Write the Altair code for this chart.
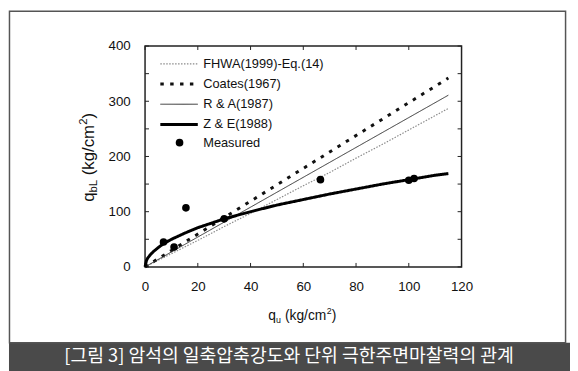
import altair as alt
import pandas as pd

FONT = "Liberation Sans"
KFONT = "Noto Sans CJK KR"

# ---------------- data ----------------
series_names = ["FHWA(1999)-Eq.(14)", "Coates(1967)", "R & A(1987)", "Z & E(1988)"]

fhwa_qu = [0, 10, 20, 30, 40, 50, 60, 70, 80, 90, 100, 110, 115]
fhwa_q = [0, 24, 48, 73, 97, 122, 147, 171, 197, 222, 248, 274, 287]

coates_qu = [0, 115]
coates_q = [0, 342]

ra_qu = [0, 115]
ra_q = [0, 311]

ze_qu = [0, 0.5, 1, 2, 3, 5, 7, 10, 15, 20, 25, 30, 40, 50, 60, 70, 80, 90, 100, 110, 115]
ze_q = [0, 11, 16, 22, 27, 35, 42, 50, 61, 71, 79, 87, 100, 112, 122, 132, 141, 150, 158, 166, 169]

meas_qu = [7, 11, 15.5, 30, 66.5, 100, 102]
meas_q = [45, 36, 107, 87, 158, 157, 160]

x_ticks = [0, 20, 40, 60, 80, 100, 120]
y_ticks = [0, 50, 100, 150, 200, 250, 300, 350, 400]
y_label_values = [0, 100, 200, 300, 400]

caption = "[그림 3] 암석의 일축압축강도와 단위 극한주면마찰력의 관계"

# ---------------- tables ----------------
rows = []
for name, xs, ys in zip(series_names,
                        [fhwa_qu, coates_qu, ra_qu, ze_qu],
                        [fhwa_q, coates_q, ra_q, ze_q]):
    for a, b in zip(xs, ys):
        rows.append({"series": name, "qu": a, "q": b})
lines_df = pd.DataFrame(rows)
meas_df = pd.DataFrame({"qu": meas_qu, "q": meas_q, "kind": ["Measured"] * len(meas_qu)})
xt_df = pd.DataFrame({"qu": x_ticks})
yt_df = pd.DataFrame({"q": y_ticks})
one = pd.DataFrame({"k": [0]})

W, H = 321, 224
xscale = alt.Scale(domain=[0, 120], nice=False, zero=False)
yscale = alt.Scale(domain=[0, 400], nice=False, zero=False)

x_axis = alt.Axis(values=x_ticks, title=None, ticks=False, domain=False, grid=False,
                  labelPadding=13, labelFontSize=13.5, labelFont=FONT, labelColor="#111",
                  labelFlush=False)
y_axis = alt.Axis(values=y_label_values, title=None, ticks=False, domain=False, grid=False,
                  labelPadding=15, labelFontSize=13.5, labelFont=FONT, labelColor="#111",
                  labelFlush=False)

X = alt.X("qu:Q", scale=xscale, axis=x_axis)
Y = alt.Y("q:Q", scale=yscale, axis=y_axis)

line_legend = alt.Legend(title=None, orient="none", legendX=9, legendY=11.5,
                         symbolType="M0,0H7.6", symbolSize=100, labelOffset=37,
                         rowPadding=6.5, labelFontSize=13, labelFont=FONT,
                         labelColor="#111", padding=0)

lines = alt.Chart(lines_df).mark_line().encode(
    x=X, y=Y,
    color=alt.Color("series:N", scale=alt.Scale(domain=series_names,
                    range=["#8a8a8a", "#111111", "#333333", "#000000"]), legend=line_legend),
    strokeDash=alt.StrokeDash("series:N", scale=alt.Scale(domain=series_names,
                    range=[[1.5, 1.5], [3.5, 6.5], [1, 0], [1, 0]]), legend=line_legend),
    strokeWidth=alt.StrokeWidth("series:N", scale=alt.Scale(type="ordinal", domain=series_names,
                    range=[1.2, 3, 1.0, 3]), legend=line_legend),
    detail="series:N",
)

points = alt.Chart(meas_df).mark_point(filled=True, size=60, opacity=1, color="black").encode(
    x=X, y=Y,
    shape=alt.Shape("kind:N", scale=alt.Scale(domain=["Measured"], range=["circle"]),
                    legend=alt.Legend(title=None, orient="none", legendX=28.5, legendY=91.5,
                                      symbolType="circle", symbolSize=60,
                                      symbolFillColor="black", symbolStrokeColor="black",
                                      labelOffset=17.5, labelFontSize=13, labelFont=FONT,
                                      labelColor="#111", padding=0)),
)

tick_color = "#222"
xt_bottom = alt.Chart(xt_df).mark_rule(color=tick_color, strokeWidth=1).encode(
    x=X, y=alt.value(H), y2=alt.value(H - 4))
xt_top = alt.Chart(xt_df).mark_rule(color=tick_color, strokeWidth=1).encode(
    x=X, y=alt.value(0), y2=alt.value(4))
yt_left = alt.Chart(yt_df).mark_rule(color=tick_color, strokeWidth=1).encode(
    y=Y, x=alt.value(0), x2=alt.value(4))
yt_right = alt.Chart(yt_df).mark_rule(color=tick_color, strokeWidth=1).encode(
    y=Y, x=alt.value(W), x2=alt.value(W - 4))

# outer frame and caption band
band = alt.Chart(one).mark_rect(color="#4a4a4a").encode(
    x=alt.value(-138), x2=alt.value(431), y=alt.value(301), y2=alt.value(330))
frame = alt.Chart(one).mark_rect(fillOpacity=0, stroke="#555", strokeWidth=1.5).encode(
    x=alt.value(-137.5), x2=alt.value(426.5), y=alt.value(-35.3), y2=alt.value(301))
cap = alt.Chart(one).mark_text(text=caption, font=KFONT, fontSize=18.5, color="white",
                               align="center", baseline="middle").encode(
    x=alt.value(146), y=alt.value(314))


def part(txt, x, y, size, dx=0, dy=0, angle=0):
    return alt.Chart(one).mark_text(text=txt, font=FONT, fontSize=size, color="#111",
                                    align="left", baseline="alphabetic", dx=dx, dy=dy,
                                    angle=angle).encode(x=alt.value(x), y=alt.value(y))


# x axis title: q_u (kg/cm^2)
xx, xy = 125, 278
xtitle = [part("q", xx, xy, 14), part("u", xx, xy, 9, dx=7.8, dy=3),
          part("(kg/cm", xx, xy, 14, dx=16.9), part("2", xx, xy, 9, dx=59.2, dy=-6),
          part(")", xx, xy, 14, dx=64.4)]
# y axis title: q_bL (kg/cm^2), rotated
yx, yy = -52, 158
ytitle = [part("q", yx, yy, 17, angle=270), part("bL", yx, yy, 11.5, dx=9.5, dy=3, angle=270),
          part("(kg/cm", yx, yy, 17, dx=27, angle=270),
          part("2", yx, yy, 11.5, dx=78.2, dy=-7, angle=270),
          part(")", yx, yy, 17, dx=84.6, angle=270)]

chart = alt.layer(band, frame, cap, *xtitle, *ytitle,
                  xt_bottom, xt_top, yt_left, yt_right, lines, points).properties(
    width=W, height=H,
    autosize=alt.AutoSizeParams(type="none"),
    padding={"left": 139, "top": 36, "right": 110, "bottom": 103},
    background="white",
).configure_view(stroke="#222", strokeWidth=1.5)

chart.save("out.html", embed_options={"renderer": "svg", "actions": False})
